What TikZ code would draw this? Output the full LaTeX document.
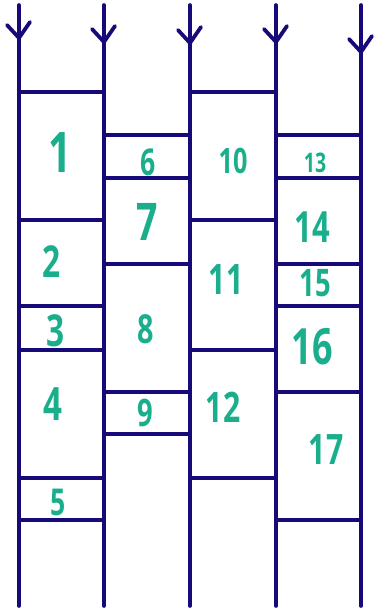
\documentclass[tikz,border=0pt]{standalone}
\usepackage{fontspec}
\setmainfont{Open Sans}[FakeStretch=0.72]
\definecolor{railblue}{RGB}{22,10,120}
\definecolor{numteal}{RGB}{27,174,140}

\begin{document}
\begin{tikzpicture}[x=1pt, y=-1pt,
        rail/.style={draw=railblue, line width=3.6pt, line cap=round},
        chev/.style={draw=railblue, line width=3.8pt, line cap=round, line join=round},
        rung/.style={draw=railblue, line width=3.2pt},
        num/.style={text=numteal, inner sep=0pt}]
    \useasboundingbox (0,0) rectangle (376,611);
    % rails, each with its arrowhead
    \foreach \x/\t in {19/38, 104/42, 190/43, 276/42, 361/52}{
        \draw[rail] (\x,5) -- (\x,606);
        \draw[chev] (\x-12,\t-13) -- (\x,\t) -- (\x+11,\t-16);
    }
    % rungs between neighbouring rails
    \foreach \xa/\xb/\ys in {19/104/{92,220,306,350,478,520},
            104/190/{135,178,264,392,434},
            190/276/{92,220,350,478},
            276/361/{135,178,264,306,392,520}}{
        \foreach \y in \ys
            \draw[rung] (\xa,\y) -- (\xb,\y);
    }
    % numbered cells
    \foreach \i/\x/\y/\s in {1/60/153/56, 2/52/262/44, 3/56/331/44, 4/53/404/46,
            5/58/502/37, 6/148/162/37, 7/147/222/52, 8/146/329/40, 9/145/413/38,
            10/233/161/35, 11/226/280/42, 12/223/407/42, 13/315/163/27,
            14/312/227/43, 15/315/283/38, 16/312/347/50, 17/326/450/42}
        \node[num, font=\fontsize{\s}{\s}\selectfont\bfseries] (n\i) at (\x,\y) {\i};
\end{tikzpicture}
\end{document}
